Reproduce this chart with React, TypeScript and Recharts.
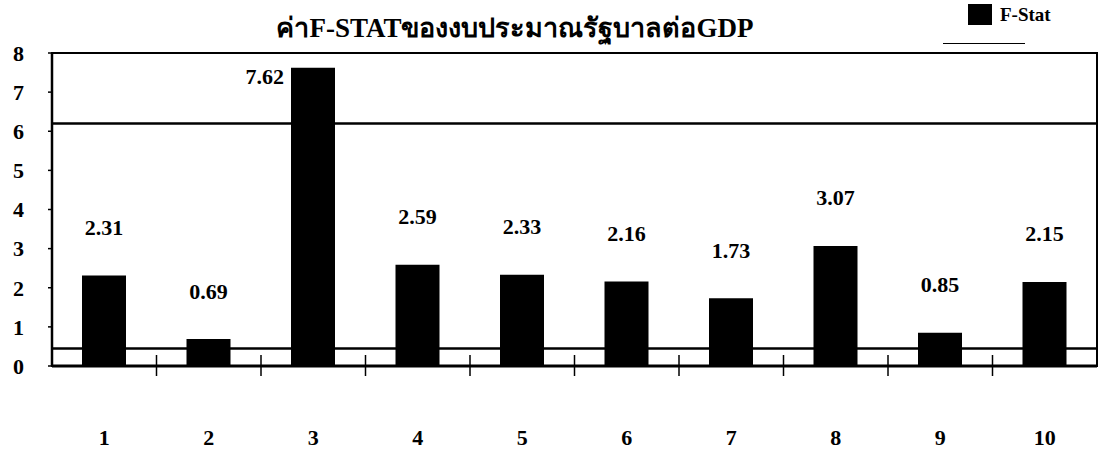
import React from 'react';
import {
  BarChart,
  Bar,
  XAxis,
  YAxis,
  ReferenceLine,
  ReferenceArea,
  LabelList,
  Legend,
} from 'recharts';

// F-statistic of government budget to GDP, by period
const categories = ['1', '2', '3', '4', '5', '6', '7', '8', '9', '10'];
const fStatValues = [2.31, 0.69, 7.62, 2.59, 2.33, 2.16, 1.73, 3.07, 0.85, 2.15];
const yTicks = [0, 1, 2, 3, 4, 5, 6, 7, 8];
const upperCritical = 6.2;
const lowerCritical = 0.45;

const title = 'ค่าF-STATของงบประมาณรัฐบาลต่อGDP';
const seriesName = 'F-Stat';

const data = categories.map((period, i) => ({ period, fStat: fStatValues[i] }));

const FONT = "'Liberation Serif', 'Times New Roman', 'DejaVu Serif', serif";
const Y_MAX = 8;

const W = 1104;
const H = 452;
const X_AXIS_HEIGHT = 86;
const MARGIN = { top: 53, right: 7, bottom: 0, left: 0 };

// Category label far below the axis plus a boundary tick between categories
const CategoryTick = (props: any) => {
  const { x, y, payload, index, width, visibleTicksCount } = props;
  const band = width / visibleTicksCount;
  const bx = x + band / 2;
  return (
    <g>
      {index < visibleTicksCount - 1 && (
        <line x1={bx} x2={bx} y1={y - 11} y2={y + 10} stroke="#000" strokeWidth={1.5} />
      )}
      <text
        x={x}
        y={y + 79}
        textAnchor="middle"
        fontFamily={FONT}
        fontWeight={700}
        fontSize={22}
        fill="#000"
      >
        {payload.value}
      </text>
    </g>
  );
};

// Value label above each bar; when there is no room above, it sits left of the bar top
const ValueLabel = (props: any) => {
  const { x, y, width, value } = props;
  const plotTop = MARGIN.top;
  const above = y - 48;
  const common = {
    dominantBaseline: 'central' as const,
    fontFamily: FONT,
    fontWeight: 700,
    fontSize: 22,
    fill: '#000',
  };
  if (above - 10 < plotTop) {
    return (
      <text x={x - 7} y={y + 9} textAnchor="end" {...common}>
        {value.toFixed(2)}
      </text>
    );
  }
  return (
    <text x={x + width / 2} y={above} textAnchor="middle" {...common}>
      {value.toFixed(2)}
    </text>
  );
};

const LegendContent = () => (
  <div style={{ position: 'relative', width: 130, height: 44, fontFamily: FONT }}>
    <div
      style={{
        position: 'absolute',
        left: 25,
        top: 3,
        width: 24,
        height: 21,
        background: '#000',
      }}
    />
    <div
      style={{
        position: 'absolute',
        left: 57,
        top: 3,
        fontWeight: 700,
        fontSize: 19,
        lineHeight: '22px',
        color: '#000',
      }}
    >
      {seriesName}
    </div>
    <div
      style={{
        position: 'absolute',
        left: 0,
        top: 42,
        width: 82,
        height: 1,
        background: '#000',
      }}
    />
  </div>
);

export default function App() {
  return (
    <div
      style={{
        position: 'absolute',
        left: 0,
        top: 0,
        width: W,
        height: H,
        background: '#fff',
        overflow: 'hidden',
      }}
    >
      <div
        style={{
          position: 'absolute',
          left: 0,
          top: 13,
          width: 1030,
          textAlign: 'center',
          fontFamily: FONT,
          fontWeight: 700,
          fontSize: 27,
          lineHeight: '30px',
          color: '#000',
        }}
      >
        {title}
      </div>
      <BarChart width={W} height={H} data={data} margin={MARGIN}>
        <ReferenceArea
          y1={0}
          y2={Y_MAX}
          fill="none"
          stroke="#000"
          strokeWidth={2}
          ifOverflow="visible"
        />
        <XAxis
          dataKey="period"
          tickLine={false}
          tickSize={0}
          tickMargin={0}
          axisLine={{ stroke: '#000', strokeWidth: 3 }}
          tick={<CategoryTick />}
          interval={0}
          height={X_AXIS_HEIGHT}
        />
        <YAxis
          domain={[0, Y_MAX]}
          ticks={yTicks}
          interval={0}
          width={52}
          tickSize={4}
          tickMargin={24}
          axisLine={{ stroke: '#000', strokeWidth: 2.5 }}
          tickLine={{ stroke: '#000', strokeWidth: 1.5 }}
          tick={{ fontFamily: FONT, fontWeight: 700, fontSize: 22, fill: '#000' }}
        />
        <Legend
          layout="horizontal"
          verticalAlign="middle"
          align="center"
          content={<LegendContent />}
          wrapperStyle={{ position: 'absolute', left: 943, top: 1, width: 130, height: 44 }}
        />
        <Bar
          dataKey="fStat"
          name={seriesName}
          fill="#000"
          barSize={44}
          isAnimationActive={false}
        >
          <LabelList dataKey="fStat" content={<ValueLabel />} />
        </Bar>
        <ReferenceLine y={upperCritical} stroke="#000" strokeWidth={2.5} />
        <ReferenceLine y={lowerCritical} stroke="#000" strokeWidth={2.5} />
      </BarChart>
    </div>
  );
}
